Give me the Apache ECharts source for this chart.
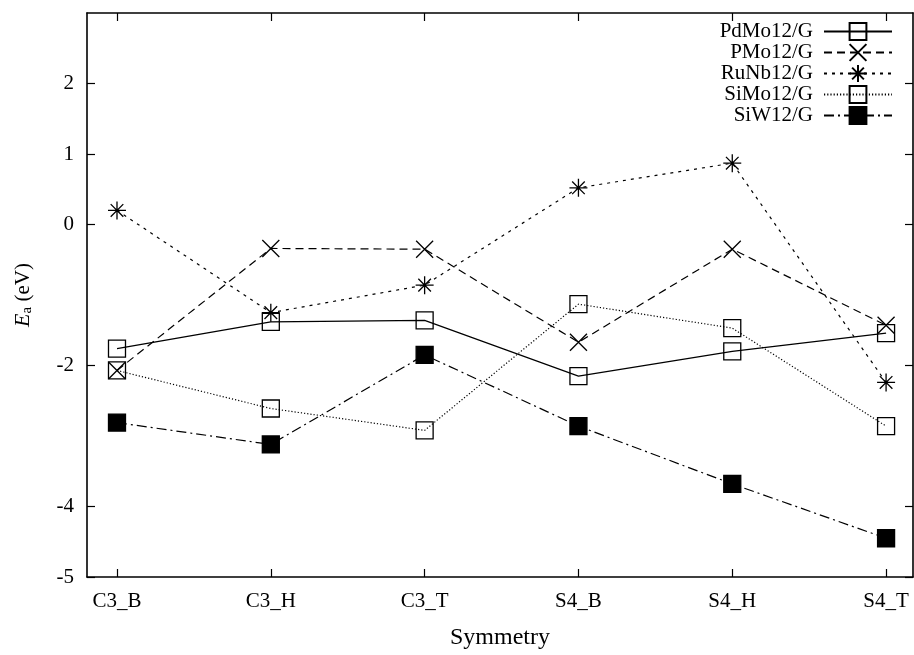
<!DOCTYPE html>
<html><head><meta charset="utf-8">
<script src="https://cdn.jsdelivr.net/npm/echarts@6/dist/echarts.min.js"></script>
<style>html,body{margin:0;padding:0;background:#fff}#c{width:914px;height:655px}</style>
</head><body><div id="c"></div>
<script>
const categories = ['C3_B','C3_H','C3_T','S4_B','S4_H','S4_T'];
const yTicks = [2, 1, 0, -2, -4, -5];
const seriesNames = ['PdMo12/G','PMo12/G','RuNb12/G','SiMo12/G','SiW12/G'];
const PdMo12 = [-1.76, -1.38, -1.36, -2.15, -1.80, -1.54];
const PMo12  = [-2.07, -0.34, -0.35, -1.67, -0.35, -1.43];
const RuNb12 = [0.20, -1.25, -0.86, 0.52, 0.87, -2.24];
const SiMo12 = [-2.07, -2.61, -2.92, -1.13, -1.47, -2.86];
const SiW12  = [-2.81, -3.12, -1.85, -2.86, -3.68, -4.45];

const FONT = 'Liberation Serif';
const X_PATH = 'path://M0,0L10,10M10,0L0,10';
const AST_PATH = 'path://M5,0L5,10M0,5L10,5M1.5,1.5L8.5,8.5M8.5,1.5L1.5,8.5';
const xIdx = categories.map((c, i) => i);
function pts(arr){ return arr.map((v,i)=>[i, v]); }

const defs = [
  {data: PdMo12, symbol: 'rect', fill: 'rgba(0,0,0,0)', dash: 'solid', size: 17},
  {data: PMo12, symbol: X_PATH, fill: 'rgba(0,0,0,0)', dash: [8,5], size: 17},
  {data: RuNb12, symbol: AST_PATH, fill: 'rgba(0,0,0,0)', dash: [3,5], size: 18},
  {data: SiMo12, symbol: 'rect', fill: 'rgba(0,0,0,0)', dash: [1.2,2], size: 17},
  {data: SiW12, symbol: 'rect', fill: '#000', dash: [10,4,2,4], size: 17}
];

const chart = echarts.init(document.getElementById('c'), null, {renderer:'canvas'});
const axisLine = {show:true, onZero:false, lineStyle:{color:'#000', width:1.6}};
const tickStyle = {color:'#000', width:1.2};
chart.setOption({
  animation: false,
  backgroundColor: '#fff',
  textStyle: {fontFamily: FONT},
  grid: {left: 87, right: 1, top: 13, bottom: 74, containLabel: false},
  legend: {
    orient: 'vertical', right: 16, top: 16, align: 'right',
    itemWidth: 68, itemHeight: 21, itemGap: 0,
    data: seriesNames,
    textStyle: {fontFamily: FONT, fontSize: 21, color: '#000', padding: [0, 6, 0, 0]}
  },
  xAxis: [{
    type: 'value', min: -0.195, max: 5.175, position: 'bottom',
    axisLine: axisLine,
    axisTick: {show:true, inside:true, length:8, lineStyle: tickStyle, customValues: xIdx},
    axisLabel: {customValues: xIdx, formatter: v => categories[Math.round(v)], fontFamily: FONT, fontSize: 21, color:'#000', margin: 14},
    splitLine: {show:false},
    name: 'Symmetry', nameLocation: 'middle', nameGap: 49,
    nameTextStyle: {fontFamily: FONT, fontSize: 24, color:'#000'}
  },{
    type: 'value', min: -0.195, max: 5.175, position: 'top',
    axisLine: axisLine,
    axisTick: {show:true, inside:true, length:8, lineStyle: tickStyle, customValues: xIdx},
    axisLabel: {show:false}, splitLine: {show:false}
  }],
  yAxis: [{
    type: 'value', min: -5, max: 3, position: 'left',
    axisLine: axisLine,
    axisTick: {show:true, inside:true, length:8, lineStyle: tickStyle, customValues: yTicks},
    axisLabel: {customValues: yTicks, formatter: v => String(v), fontFamily: FONT, fontSize: 21, color:'#000', margin: 13},
    splitLine: {show:false},
    name: '{i|E}{s|a} (eV)', nameLocation: 'middle', nameGap: 52, nameRotate: 90,
    nameTextStyle: {fontFamily: FONT, fontSize: 21, color:'#000',
      rich: {i: {fontFamily: FONT, fontStyle:'italic', fontSize: 22, color:'#000'},
             s: {fontFamily: FONT, fontSize: 15, color:'#000', padding:[9,0,0,0]}}}
  },{
    type: 'value', min: -5, max: 3, position: 'right',
    axisLine: axisLine,
    axisTick: {show:true, inside:true, length:8, lineStyle: tickStyle, customValues: yTicks},
    axisLabel: {show:false}, splitLine: {show:false}
  }],
  series: defs.map((d, k) => ({
    name: seriesNames[k], type: 'line', xAxisIndex: 0, yAxisIndex: 0,
    data: pts(d.data), symbol: d.symbol, symbolSize: d.size, showAllSymbol: true,
    lineStyle: {color:'#000', width: 1.2, type: d.dash},
    itemStyle: {color: d.fill, borderColor:'#000', borderWidth: 1.3},
    emphasis: {disabled: true}, z: 2 + k
  }))
});
</script></body></html>
